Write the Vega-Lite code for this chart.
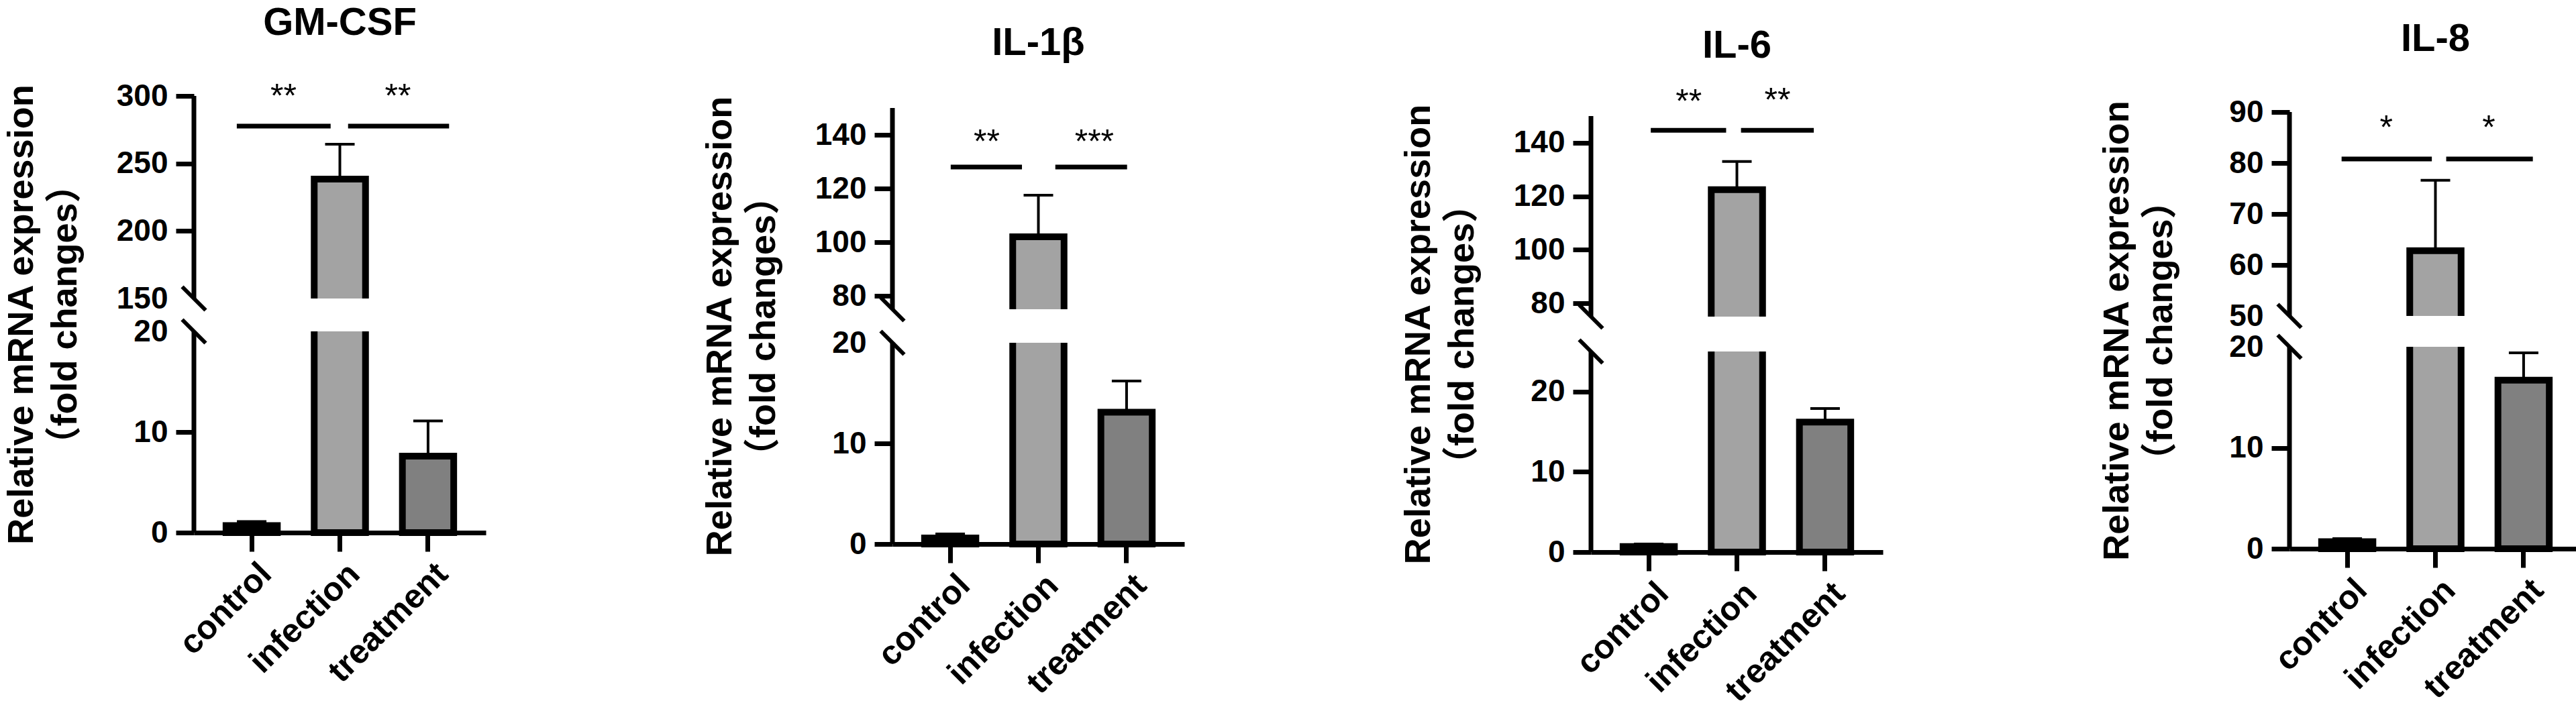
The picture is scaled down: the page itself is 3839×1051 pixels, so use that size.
{
  "$schema": "https://vega.github.io/schema/vega-lite/v6.json",
  "autosize": {"type": "pad"},
  "padding": {"left": 4, "top": 5, "right": 0, "bottom": 0},
  "background": "white",
  "bounds": "flush",
  "spacing": 606,
  "datasets": {
    "bars": [
      {"gene": "GM-CSF", "group": "control", "mean": 0.7, "upper": 1.1},
      {"gene": "GM-CSF", "group": "infection", "mean": 238.4, "upper": 264.3},
      {"gene": "GM-CSF", "group": "treatment", "mean": 7.6, "upper": 11.1},
      {"gene": "IL-1β", "group": "control", "mean": 0.6, "upper": 1.0},
      {"gene": "IL-1β", "group": "infection", "mean": 102, "upper": 117.5},
      {"gene": "IL-1β", "group": "treatment", "mean": 13.1, "upper": 16.2},
      {"gene": "IL-6", "group": "control", "mean": 0.7, "upper": 1.0},
      {"gene": "IL-6", "group": "infection", "mean": 122.5, "upper": 133},
      {"gene": "IL-6", "group": "treatment", "mean": 16.2, "upper": 17.9},
      {"gene": "IL-8", "group": "control", "mean": 0.7, "upper": 1.0},
      {"gene": "IL-8", "group": "infection", "mean": 62.8, "upper": 76.6},
      {"gene": "IL-8", "group": "treatment", "mean": 16.7, "upper": 19.4}
    ],
    "sig": [
      {"gene": "GM-CSF", "side": "left", "from": "control", "to": "infection", "line": 277.7, "star": 291.6, "label": "**"},
      {"gene": "GM-CSF", "side": "right", "from": "infection", "to": "treatment", "line": 277.7, "star": 291.6, "label": "**"},
      {"gene": "IL-1β", "side": "left", "from": "control", "to": "infection", "line": 128, "star": 133.2, "label": "**"},
      {"gene": "IL-1β", "side": "right", "from": "infection", "to": "treatment", "line": 128, "star": 133.2, "label": "***"},
      {"gene": "IL-6", "side": "left", "from": "control", "to": "infection", "line": 144.7, "star": 151.2, "label": "**"},
      {"gene": "IL-6", "side": "right", "from": "infection", "to": "treatment", "line": 144.7, "star": 151.7, "label": "**"},
      {"gene": "IL-8", "side": "left", "from": "control", "to": "infection", "line": 80.8, "star": 84.7, "label": "*"},
      {"gene": "IL-8", "side": "right", "from": "infection", "to": "treatment", "line": 80.8, "star": 84.7, "label": "*"}
    ],
    "segments": [
      {"gene": "GM-CSF", "lo": 0, "hi": 20},
      {"gene": "GM-CSF", "lo": 150, "hi": 300},
      {"gene": "IL-1β", "lo": 0, "hi": 20},
      {"gene": "IL-1β", "lo": 75, "hi": 150},
      {"gene": "IL-6", "lo": 0, "hi": 25},
      {"gene": "IL-6", "lo": 75, "hi": 150},
      {"gene": "IL-8", "lo": 0, "hi": 20},
      {"gene": "IL-8", "lo": 50, "hi": 90}
    ],
    "breaks": [
      {"gene": "GM-CSF", "lo": 20, "hi": 150},
      {"gene": "IL-1β", "lo": 20, "hi": 75},
      {"gene": "IL-6", "lo": 25, "hi": 75},
      {"gene": "IL-8", "lo": 20, "hi": 50}
    ]
  },
  "hconcat": [
    {
      "width": 435,
      "height": 681,
      "title": {"text": "GM-CSF", "offset": 56},
      "layer": [
        {
          "data": {"name": "bars"},
          "transform": [{"filter": "datum.gene == 'GM-CSF'"}],
          "mark": {"type": "bar", "stroke": "black", "strokeWidth": 10, "opacity": 1},
          "encoding": {
            "x": {"field": "group", "type": "nominal", "scale": {"paddingInner": 0.418, "paddingOuter": 0.364}, "axis": {"title": null, "offset": -29}},
            "y": {
              "field": "mean", "type": "quantitative",
              "scale": {"domain": [0, 20, 150, 300], "range": [652, 352, 303, 1], "nice": false, "zero": false},
              "axis": {
                "title": ["Relative mRNA expression", "（fold changes）"], "titleX": -230,
                "values": [0, 10, 20, 150, 200, 250, 300],
                "tickOpacity": {"condition": {"test": "datum.value == 150 || datum.value == 20", "value": 0}, "value": 1}
              }
            },
            "fill": {"field": "group", "type": "nominal", "scale": {"domain": ["control", "infection", "treatment"], "range": ["#000000", "#a3a3a3", "#808080"]}, "legend": null}
          }
        },
        {
          "data": {"name": "breaks"},
          "transform": [{"filter": "datum.gene == 'GM-CSF'"}],
          "mark": {"type": "rect", "color": "white", "opacity": 1},
          "encoding": {"y": {"field": "lo", "type": "quantitative"}, "y2": {"field": "hi"}}
        },
        {
          "data": {"name": "bars"},
          "transform": [{"filter": "datum.gene == 'GM-CSF'"}],
          "mark": {"type": "rule", "color": "black", "strokeWidth": 4},
          "encoding": {"x": {"field": "group", "type": "nominal"}, "y": {"field": "mean", "type": "quantitative"}, "y2": {"field": "upper"}}
        },
        {
          "data": {"name": "bars"},
          "transform": [{"filter": "datum.gene == 'GM-CSF'"}],
          "mark": {"type": "tick", "color": "black", "thickness": 4, "size": 44, "opacity": 1},
          "encoding": {"x": {"field": "group", "type": "nominal"}, "y": {"field": "upper", "type": "quantitative"}}
        },
        {
          "data": {"name": "sig"},
          "transform": [{"filter": "datum.gene == 'GM-CSF' && datum.side == 'left'"}],
          "mark": {"type": "rule", "color": "black", "strokeWidth": 7},
          "encoding": {"x": {"field": "from", "type": "nominal", "bandPosition": 0.21}, "x2": {"field": "to", "bandPosition": 0.32}, "y": {"field": "line", "type": "quantitative"}}
        },
        {
          "data": {"name": "sig"},
          "transform": [{"filter": "datum.gene == 'GM-CSF' && datum.side == 'right'"}],
          "mark": {"type": "rule", "color": "black", "strokeWidth": 7},
          "encoding": {"x": {"field": "from", "type": "nominal", "bandPosition": 0.66}, "x2": {"field": "to", "bandPosition": 0.91}, "y": {"field": "line", "type": "quantitative"}}
        },
        {
          "data": {"name": "sig"},
          "transform": [{"filter": "datum.gene == 'GM-CSF' && datum.side == 'left'"}],
          "mark": {"type": "text", "color": "black", "font": "Liberation Sans", "fontSize": 50, "align": "center", "baseline": "alphabetic"},
          "encoding": {"x": {"field": "from", "type": "nominal", "bandPosition": 1.12}, "y": {"field": "star", "type": "quantitative"}, "text": {"field": "label"}}
        },
        {
          "data": {"name": "sig"},
          "transform": [{"filter": "datum.gene == 'GM-CSF' && datum.side == 'right'"}],
          "mark": {"type": "text", "color": "black", "font": "Liberation Sans", "fontSize": 50, "align": "center", "baseline": "alphabetic"},
          "encoding": {"x": {"field": "from", "type": "nominal", "bandPosition": 1.63}, "y": {"field": "star", "type": "quantitative"}, "text": {"field": "label"}}
        },
        {
          "data": {"name": "segments"},
          "transform": [{"filter": "datum.gene == 'GM-CSF'"}],
          "mark": {"type": "rule", "color": "black", "strokeWidth": 7},
          "encoding": {"x": {"value": 0}, "y": {"field": "lo", "type": "quantitative"}, "y2": {"field": "hi"}}
        },
        {
          "data": {"name": "breaks"},
          "transform": [{"filter": "datum.gene == 'GM-CSF'"}, {"fold": ["lo", "hi"], "as": ["end", "value"]}],
          "mark": {"type": "point", "shape": "M-1,-1L1,1", "size": 1225, "filled": false, "color": "black", "strokeWidth": 6, "opacity": 1},
          "encoding": {"x": {"value": 0}, "y": {"field": "value", "type": "quantitative"}}
        }
      ]
    },
    {
      "width": 435,
      "height": 681,
      "title": {"text": "IL-1β", "offset": 48},
      "layer": [
        {
          "data": {"name": "bars"},
          "transform": [{"filter": "datum.gene == 'IL-1β'"}],
          "mark": {"type": "bar", "stroke": "black", "strokeWidth": 10, "opacity": 1},
          "encoding": {
            "x": {"field": "group", "type": "nominal", "scale": {"paddingInner": 0.418, "paddingOuter": 0.364}, "axis": {"title": null, "offset": -12}},
            "y": {
              "field": "mean", "type": "quantitative",
              "scale": {"domain": [0, 20, 75, 150], "range": [669, 369, 319, 19], "nice": false, "zero": false},
              "axis": {
                "title": ["Relative mRNA expression", "（fold changes）"], "titleX": -230,
                "values": [0, 10, 20, 80, 100, 120, 140],
                "tickOpacity": {"condition": {"test": "datum.value == 20", "value": 0}, "value": 1}
              }
            },
            "fill": {"field": "group", "type": "nominal", "scale": {"domain": ["control", "infection", "treatment"], "range": ["#000000", "#a3a3a3", "#808080"]}, "legend": null}
          }
        },
        {
          "data": {"name": "breaks"},
          "transform": [{"filter": "datum.gene == 'IL-1β'"}],
          "mark": {"type": "rect", "color": "white", "opacity": 1},
          "encoding": {"y": {"field": "lo", "type": "quantitative"}, "y2": {"field": "hi"}}
        },
        {
          "data": {"name": "bars"},
          "transform": [{"filter": "datum.gene == 'IL-1β'"}],
          "mark": {"type": "rule", "color": "black", "strokeWidth": 4},
          "encoding": {"x": {"field": "group", "type": "nominal"}, "y": {"field": "mean", "type": "quantitative"}, "y2": {"field": "upper"}}
        },
        {
          "data": {"name": "bars"},
          "transform": [{"filter": "datum.gene == 'IL-1β'"}],
          "mark": {"type": "tick", "color": "black", "thickness": 4, "size": 44, "opacity": 1},
          "encoding": {"x": {"field": "group", "type": "nominal"}, "y": {"field": "upper", "type": "quantitative"}}
        },
        {
          "data": {"name": "sig"},
          "transform": [{"filter": "datum.gene == 'IL-1β' && datum.side == 'left'"}],
          "mark": {"type": "rule", "color": "black", "strokeWidth": 7},
          "encoding": {"x": {"field": "from", "type": "nominal", "bandPosition": 0.51}, "x2": {"field": "to", "bandPosition": 0.18}, "y": {"field": "line", "type": "quantitative"}}
        },
        {
          "data": {"name": "sig"},
          "transform": [{"filter": "datum.gene == 'IL-1β' && datum.side == 'right'"}],
          "mark": {"type": "rule", "color": "black", "strokeWidth": 7},
          "encoding": {"x": {"field": "from", "type": "nominal", "bandPosition": 0.83}, "x2": {"field": "to", "bandPosition": 0.51}, "y": {"field": "line", "type": "quantitative"}}
        },
        {
          "data": {"name": "sig"},
          "transform": [{"filter": "datum.gene == 'IL-1β' && datum.side == 'left'"}],
          "mark": {"type": "text", "color": "black", "font": "Liberation Sans", "fontSize": 50, "align": "center", "baseline": "alphabetic"},
          "encoding": {"x": {"field": "from", "type": "nominal", "bandPosition": 1.21}, "y": {"field": "star", "type": "quantitative"}, "text": {"field": "label"}}
        },
        {
          "data": {"name": "sig"},
          "transform": [{"filter": "datum.gene == 'IL-1β' && datum.side == 'right'"}],
          "mark": {"type": "text", "color": "black", "font": "Liberation Sans", "fontSize": 50, "align": "center", "baseline": "alphabetic"},
          "encoding": {"x": {"field": "from", "type": "nominal", "bandPosition": 1.59}, "y": {"field": "star", "type": "quantitative"}, "text": {"field": "label"}}
        },
        {
          "data": {"name": "segments"},
          "transform": [{"filter": "datum.gene == 'IL-1β'"}],
          "mark": {"type": "rule", "color": "black", "strokeWidth": 7},
          "encoding": {"x": {"value": 0}, "y": {"field": "lo", "type": "quantitative"}, "y2": {"field": "hi"}}
        },
        {
          "data": {"name": "breaks"},
          "transform": [{"filter": "datum.gene == 'IL-1β'"}, {"fold": ["lo", "hi"], "as": ["end", "value"]}],
          "mark": {"type": "point", "shape": "M-1,-1L1,1", "size": 1225, "filled": false, "color": "black", "strokeWidth": 6, "opacity": 1},
          "encoding": {"x": {"value": 0}, "y": {"field": "value", "type": "quantitative"}}
        }
      ]
    },
    {
      "width": 435,
      "height": 681,
      "title": {"text": "IL-6", "offset": 28},
      "layer": [
        {
          "data": {"name": "bars"},
          "transform": [{"filter": "datum.gene == 'IL-6'"}],
          "mark": {"type": "bar", "stroke": "black", "strokeWidth": 10, "opacity": 1},
          "encoding": {
            "x": {"field": "group", "type": "nominal", "scale": {"paddingInner": 0.418, "paddingOuter": 0.364}, "axis": {"title": null, "offset": 0}},
            "y": {
              "field": "mean", "type": "quantitative",
              "scale": {"domain": [0, 25, 75, 150], "range": [681, 382, 330, 31], "nice": false, "zero": false},
              "axis": {
                "title": ["Relative mRNA expression", "（fold changes）"], "titleX": -230,
                "values": [0, 10, 20, 80, 100, 120, 140]
              }
            },
            "fill": {"field": "group", "type": "nominal", "scale": {"domain": ["control", "infection", "treatment"], "range": ["#000000", "#a3a3a3", "#808080"]}, "legend": null}
          }
        },
        {
          "data": {"name": "breaks"},
          "transform": [{"filter": "datum.gene == 'IL-6'"}],
          "mark": {"type": "rect", "color": "white", "opacity": 1},
          "encoding": {"y": {"field": "lo", "type": "quantitative"}, "y2": {"field": "hi"}}
        },
        {
          "data": {"name": "bars"},
          "transform": [{"filter": "datum.gene == 'IL-6'"}],
          "mark": {"type": "rule", "color": "black", "strokeWidth": 4},
          "encoding": {"x": {"field": "group", "type": "nominal"}, "y": {"field": "mean", "type": "quantitative"}, "y2": {"field": "upper"}}
        },
        {
          "data": {"name": "bars"},
          "transform": [{"filter": "datum.gene == 'IL-6'"}],
          "mark": {"type": "tick", "color": "black", "thickness": 4, "size": 44, "opacity": 1},
          "encoding": {"x": {"field": "group", "type": "nominal"}, "y": {"field": "upper", "type": "quantitative"}}
        },
        {
          "data": {"name": "sig"},
          "transform": [{"filter": "datum.gene == 'IL-6' && datum.side == 'left'"}],
          "mark": {"type": "rule", "color": "black", "strokeWidth": 7},
          "encoding": {"x": {"field": "from", "type": "nominal", "bandPosition": 0.54}, "x2": {"field": "to", "bandPosition": 0.29}, "y": {"field": "line", "type": "quantitative"}}
        },
        {
          "data": {"name": "sig"},
          "transform": [{"filter": "datum.gene == 'IL-6' && datum.side == 'right'"}],
          "mark": {"type": "rule", "color": "black", "strokeWidth": 7},
          "encoding": {"x": {"field": "from", "type": "nominal", "bandPosition": 0.58}, "x2": {"field": "to", "bandPosition": 0.28}, "y": {"field": "line", "type": "quantitative"}}
        },
        {
          "data": {"name": "sig"},
          "transform": [{"filter": "datum.gene == 'IL-6' && datum.side == 'left'"}],
          "mark": {"type": "text", "color": "black", "font": "Liberation Sans", "fontSize": 50, "align": "center", "baseline": "alphabetic"},
          "encoding": {"x": {"field": "from", "type": "nominal", "bandPosition": 1.28}, "y": {"field": "star", "type": "quantitative"}, "text": {"field": "label"}}
        },
        {
          "data": {"name": "sig"},
          "transform": [{"filter": "datum.gene == 'IL-6' && datum.side == 'right'"}],
          "mark": {"type": "text", "color": "black", "font": "Liberation Sans", "fontSize": 50, "align": "center", "baseline": "alphabetic"},
          "encoding": {"x": {"field": "from", "type": "nominal", "bandPosition": 1.29}, "y": {"field": "star", "type": "quantitative"}, "text": {"field": "label"}}
        },
        {
          "data": {"name": "segments"},
          "transform": [{"filter": "datum.gene == 'IL-6'"}],
          "mark": {"type": "rule", "color": "black", "strokeWidth": 7},
          "encoding": {"x": {"value": 0}, "y": {"field": "lo", "type": "quantitative"}, "y2": {"field": "hi"}}
        },
        {
          "data": {"name": "breaks"},
          "transform": [{"filter": "datum.gene == 'IL-6'"}, {"fold": ["lo", "hi"], "as": ["end", "value"]}],
          "mark": {"type": "point", "shape": "M-1,-1L1,1", "size": 1225, "filled": false, "color": "black", "strokeWidth": 6, "opacity": 1},
          "encoding": {"x": {"value": 0}, "y": {"field": "value", "type": "quantitative"}}
        }
      ]
    },
    {
      "width": 435,
      "height": 681,
      "title": {"text": "IL-8", "offset": 54},
      "layer": [
        {
          "data": {"name": "bars"},
          "transform": [{"filter": "datum.gene == 'IL-8'"}],
          "mark": {"type": "bar", "stroke": "black", "strokeWidth": 10, "opacity": 1},
          "encoding": {
            "x": {"field": "group", "type": "nominal", "scale": {"paddingInner": 0.418, "paddingOuter": 0.364}, "axis": {"title": null, "offset": -5}},
            "y": {
              "field": "mean", "type": "quantitative",
              "scale": {"domain": [0, 20, 50, 90], "range": [676, 375, 329, 25], "nice": false, "zero": false},
              "axis": {
                "title": ["Relative mRNA expression", "（fold changes）"], "titleX": -230,
                "values": [0, 10, 20, 50, 60, 70, 80, 90],
                "tickOpacity": {"condition": {"test": "datum.value == 50 || datum.value == 20", "value": 0}, "value": 1}
              }
            },
            "fill": {"field": "group", "type": "nominal", "scale": {"domain": ["control", "infection", "treatment"], "range": ["#000000", "#a3a3a3", "#808080"]}, "legend": null}
          }
        },
        {
          "data": {"name": "breaks"},
          "transform": [{"filter": "datum.gene == 'IL-8'"}],
          "mark": {"type": "rect", "color": "white", "opacity": 1},
          "encoding": {"y": {"field": "lo", "type": "quantitative"}, "y2": {"field": "hi"}}
        },
        {
          "data": {"name": "bars"},
          "transform": [{"filter": "datum.gene == 'IL-8'"}],
          "mark": {"type": "rule", "color": "black", "strokeWidth": 4},
          "encoding": {"x": {"field": "group", "type": "nominal"}, "y": {"field": "mean", "type": "quantitative"}, "y2": {"field": "upper"}}
        },
        {
          "data": {"name": "bars"},
          "transform": [{"filter": "datum.gene == 'IL-8'"}],
          "mark": {"type": "tick", "color": "black", "thickness": 4, "size": 44, "opacity": 1},
          "encoding": {"x": {"field": "group", "type": "nominal"}, "y": {"field": "upper", "type": "quantitative"}}
        },
        {
          "data": {"name": "sig"},
          "transform": [{"filter": "datum.gene == 'IL-8' && datum.side == 'left'"}],
          "mark": {"type": "rule", "color": "black", "strokeWidth": 7},
          "encoding": {"x": {"field": "from", "type": "nominal", "bandPosition": 0.39}, "x2": {"field": "to", "bandPosition": 0.43}, "y": {"field": "line", "type": "quantitative"}}
        },
        {
          "data": {"name": "sig"},
          "transform": [{"filter": "datum.gene == 'IL-8' && datum.side == 'right'"}],
          "mark": {"type": "rule", "color": "black", "strokeWidth": 7},
          "encoding": {"x": {"field": "from", "type": "nominal", "bandPosition": 0.71}, "x2": {"field": "to", "bandPosition": 0.68}, "y": {"field": "line", "type": "quantitative"}}
        },
        {
          "data": {"name": "sig"},
          "transform": [{"filter": "datum.gene == 'IL-8' && datum.side == 'left'"}],
          "mark": {"type": "text", "color": "black", "font": "Liberation Sans", "fontSize": 50, "align": "center", "baseline": "alphabetic"},
          "encoding": {"x": {"field": "from", "type": "nominal", "bandPosition": 1.26}, "y": {"field": "star", "type": "quantitative"}, "text": {"field": "label"}}
        },
        {
          "data": {"name": "sig"},
          "transform": [{"filter": "datum.gene == 'IL-8' && datum.side == 'right'"}],
          "mark": {"type": "text", "color": "black", "font": "Liberation Sans", "fontSize": 50, "align": "center", "baseline": "alphabetic"},
          "encoding": {"x": {"field": "from", "type": "nominal", "bandPosition": 1.54}, "y": {"field": "star", "type": "quantitative"}, "text": {"field": "label"}}
        },
        {
          "data": {"name": "segments"},
          "transform": [{"filter": "datum.gene == 'IL-8'"}],
          "mark": {"type": "rule", "color": "black", "strokeWidth": 7},
          "encoding": {"x": {"value": 0}, "y": {"field": "lo", "type": "quantitative"}, "y2": {"field": "hi"}}
        },
        {
          "data": {"name": "breaks"},
          "transform": [{"filter": "datum.gene == 'IL-8'"}, {"fold": ["lo", "hi"], "as": ["end", "value"]}],
          "mark": {"type": "point", "shape": "M-1,-1L1,1", "size": 1225, "filled": false, "color": "black", "strokeWidth": 6, "opacity": 1},
          "encoding": {"x": {"value": 0}, "y": {"field": "value", "type": "quantitative"}}
        }
      ]
    }
  ],
  "config": {
    "view": {"stroke": null},
    "font": "Liberation Sans",
    "title": {"font": "Liberation Sans", "fontSize": 58, "fontWeight": "bold", "color": "black", "anchor": "middle", "frame": "group"},
    "axis": {
      "grid": false, "domainColor": "black", "tickColor": "black", "labelColor": "black", "titleColor": "black",
      "labelFont": "Liberation Sans", "labelFontWeight": "bold",
      "titleFont": "Liberation Sans, Noto Sans CJK SC", "titleFontWeight": "bold"
    },
    "axisX": {
      "domainWidth": 7, "tickWidth": 7, "tickSize": 28, "labelFontSize": 50, "labelAngle": -45,
      "labelAlign": "right", "labelBaseline": "top", "labelPadding": 8, "labelOffset": 4, "labelLimit": 0
    },
    "axisY": {
      "domain": false, "tickWidth": 7, "tickSize": 27, "labelFontSize": 46, "labelPadding": 12,
      "labelOverlap": false, "titleFontSize": 54, "titleLineHeight": 65, "titleLimit": 2000
    }
  }
}
